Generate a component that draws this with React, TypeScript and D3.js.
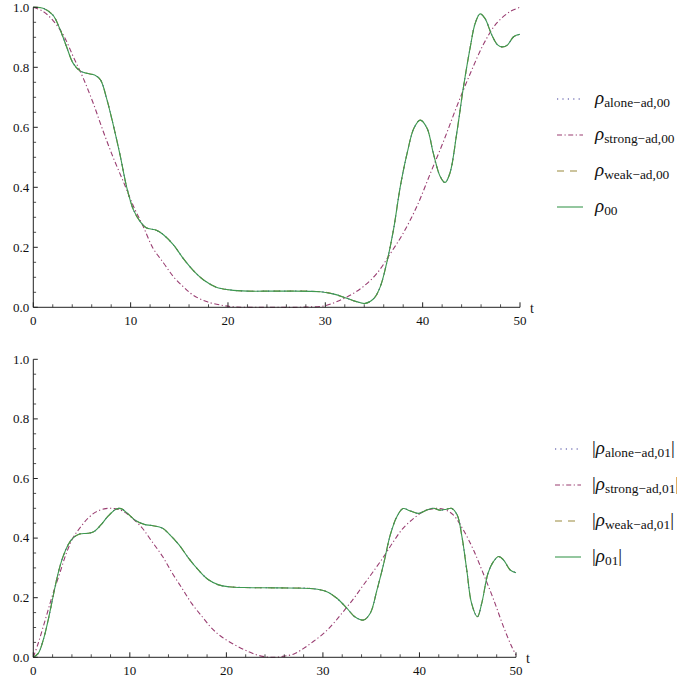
import React from "react";
import * as d3 from "d3";

// ---------- data ----------
const X_TICKS = [0, 10, 20, 30, 40, 50];
const Y_TICKS = [0, 0.2, 0.4, 0.6, 0.8, 1.0];

// top panel: rho_00
const T_RHO00 = [0, 1, 2, 2.7, 3.4, 4.1, 4.8, 5.5, 6.3, 6.9, 7.5, 8.2, 8.9, 9.6, 10.3, 11, 11.6, 12.7, 13.4, 14.4, 15.4, 16.4, 17.5, 18.8, 20.2, 22, 25, 29.5, 30.9, 32.2, 33.2, 34.1, 35.0, 35.65, 36.3, 37.0, 37.7, 38.4, 39.1, 39.75, 40.45, 41.1, 41.8, 42.3, 42.8, 43.5, 44.2, 44.9, 45.4, 45.9, 46.4, 47.1, 47.7, 48.2, 48.7, 49.35, 50];
const V_RHO00 = [1.0, 0.997, 0.975, 0.93, 0.87, 0.813, 0.788, 0.78, 0.774, 0.758, 0.70, 0.61, 0.51, 0.40, 0.324, 0.285, 0.265, 0.256, 0.241, 0.208, 0.163, 0.124, 0.091, 0.067, 0.058, 0.054, 0.054, 0.052, 0.044, 0.030, 0.019, 0.013, 0.03, 0.069, 0.147, 0.258, 0.402, 0.513, 0.597, 0.624, 0.597, 0.513, 0.436, 0.416, 0.447, 0.58, 0.736, 0.869, 0.947, 0.978, 0.963, 0.908, 0.875, 0.868, 0.874, 0.902, 0.91];
const V_ALONE00 = V_RHO00;
const V_WEAK00 = V_RHO00;

const T_STRONG00 = [0, 1.03, 2.05, 3.08, 4.1, 5.14, 6.16, 7.2, 8.2, 9.25, 10.3, 11.3, 12.3, 13.4, 14.4, 15.4, 16.4, 17.8, 19.5, 20.9, 23, 25, 27, 28.1, 29.8, 31.2, 32.6, 33.9, 35.3, 36.7, 38.0, 39.4, 40.8, 42.2, 43.5, 44.9, 46.3, 47.6, 49.0, 50];
const V_STRONG00 = [1.0, 0.986, 0.955, 0.908, 0.836, 0.763, 0.68, 0.585, 0.50, 0.419, 0.336, 0.269, 0.197, 0.147, 0.102, 0.069, 0.041, 0.019, 0.006, 0.001, 0, 0, 0, 0.001, 0.004, 0.019, 0.041, 0.069, 0.113, 0.18, 0.247, 0.336, 0.447, 0.558, 0.669, 0.78, 0.88, 0.947, 0.986, 1.0];

// bottom panel: |rho_01|
const T_RHO01 = [0, 0.51, 1.03, 1.54, 2.05, 2.57, 3.08, 3.6, 4.1, 4.8, 5.65, 6.3, 7.0, 7.7, 8.56, 9.08, 9.76, 10.6, 11.5, 12.3, 13.4, 14.0, 15.1, 16.1, 17.1, 18.15, 19.2, 20.2, 21.9, 25.3, 29.0, 30.4, 31.45, 32.5, 33.3, 34.2, 34.9, 35.6, 36.3, 36.97, 37.66, 38.3, 39.0, 39.9, 40.76, 41.45, 42.1, 42.8, 43.3, 43.9, 44.4, 44.9, 45.4, 46.0, 46.45, 47.1, 47.66, 48.2, 48.7, 49.4, 50];
const V_RHO01 = [0, 0.013, 0.058, 0.125, 0.204, 0.282, 0.338, 0.377, 0.40, 0.414, 0.416, 0.422, 0.444, 0.472, 0.497, 0.499, 0.483, 0.459, 0.446, 0.442, 0.433, 0.416, 0.377, 0.332, 0.293, 0.26, 0.243, 0.237, 0.234, 0.233, 0.230, 0.22, 0.198, 0.164, 0.136, 0.125, 0.148, 0.226, 0.315, 0.41, 0.472, 0.499, 0.492, 0.483, 0.494, 0.50, 0.494, 0.497, 0.50, 0.478, 0.405, 0.293, 0.181, 0.136, 0.181, 0.282, 0.321, 0.338, 0.327, 0.293, 0.284];
const V_ALONE01 = V_RHO01;
const V_WEAK01 = V_RHO01;

const T_STRONG01 = [0, 0.51, 1.03, 1.54, 2.05, 2.74, 3.42, 4.1, 4.8, 5.65, 6.5, 7.5, 8.4, 9.25, 10.3, 11.3, 12.3, 13.4, 14.4, 15.4, 16.4, 17.5, 18.5, 19.5, 20.9, 22.3, 23.6, 25, 26, 27, 28, 29, 30.1, 31.1, 32.1, 33.2, 34.2, 35.2, 36.3, 37.3, 38.3, 39.4, 40.4, 41.45, 42.5, 43.5, 44.55, 45.6, 46.6, 47.7, 48.7, 49.55, 50];
const V_STRONG01 = [0, 0.047, 0.103, 0.159, 0.215, 0.282, 0.349, 0.40, 0.433, 0.466, 0.488, 0.499, 0.499, 0.491, 0.466, 0.433, 0.388, 0.338, 0.282, 0.232, 0.181, 0.136, 0.097, 0.069, 0.041, 0.019, 0.004, 0, 0.004, 0.011, 0.03, 0.053, 0.081, 0.114, 0.153, 0.198, 0.243, 0.287, 0.338, 0.388, 0.433, 0.466, 0.489, 0.499, 0.497, 0.478, 0.427, 0.36, 0.282, 0.192, 0.103, 0.036, 0.008];

const LEGEND_TOP = ["alone−ad,00", "strong−ad,00", "weak−ad,00", "00"];
const LEGEND_BOTTOM = ["alone−ad,01", "strong−ad,01", "weak−ad,01", "01"];

// ---------- styles ----------
const COLORS = ["#3f3d99", "#993d71", "#998a3d", "#3d9951"];
const DASHES = ["1.2,4.2", "5,2.5,1.2,2.5", "7,6", ""];
const FONT = "Liberation Serif, Times New Roman, serif";

type Series = { t: number[]; v: number[] };

function Panel(props: {
  x0: number; x1: number; yTop: number; yBot: number;
  series: Series[];
}) {
  const { x0, x1, yTop, yBot, series } = props;
  const x = d3.scaleLinear().domain([0, 50]).range([x0, x1]);
  const y = d3.scaleLinear().domain([0, 1]).range([yBot, yTop]);
  const xMinor = d3.range(0, 51, 2).filter((d) => d % 10 !== 0);
  const yMinor = d3.range(0, 21).map((i) => i * 0.05).filter((_, i) => i % 4 !== 0);
  const axisColor = "#222";
  const fmt = d3.format(".1f");

  const paths = series.map((s) => {
    const pts = s.t.map((t, i) => [t, Math.max(0, s.v[i])] as [number, number]);
    return d3.line<[number, number]>()
      .x((d) => x(d[0]))
      .y((d) => y(d[1]))
      .curve(d3.curveCatmullRom.alpha(0.5))(pts) || "";
  });

  return (
    <g fontFamily={FONT}>
      {paths.map((d, i) => (
        <path key={i} d={d} fill="none" stroke={COLORS[i]} strokeWidth={1.1}
          strokeDasharray={DASHES[i] || undefined} />
      ))}
      <line x1={x0} x2={x1} y1={yBot} y2={yBot} stroke={axisColor} strokeWidth={1} />
      <line x1={x0} x2={x0} y1={yBot} y2={yTop} stroke={axisColor} strokeWidth={1} />
      {X_TICKS.map((t) => (
        <g key={"xt" + t}>
          <line x1={x(t)} x2={x(t)} y1={yBot} y2={yBot - 5} stroke={axisColor} strokeWidth={1} />
          <text x={x(t)} y={yBot + 17.5} textAnchor="middle" fontSize={13} fill="#111">{t}</text>
        </g>
      ))}
      {xMinor.map((t) => (
        <line key={"xm" + t} x1={x(t)} x2={x(t)} y1={yBot} y2={yBot - 3} stroke={axisColor} strokeWidth={0.8} />
      ))}
      {Y_TICKS.map((v) => (
        <g key={"yt" + v}>
          <line x1={x0} x2={x0 + 4.5} y1={y(v)} y2={y(v)} stroke={axisColor} strokeWidth={1} />
          <text x={x0 - 4} y={y(v) + 4.2} textAnchor="end" fontSize={13} fill="#111">{fmt(v)}</text>
        </g>
      ))}
      {yMinor.map((v) => (
        <line key={"ym" + v} x1={x0} x2={x0 + 2.8} y1={y(v)} y2={y(v)} stroke={axisColor} strokeWidth={0.8} />
      ))}
      <text x={x1 + 10} y={yBot + 6} fontSize={14} fill="#111">t</text>
    </g>
  );
}

function Legend(props: { x: number; y: number; labels: string[]; abs: boolean }) {
  const { x, y, labels, abs } = props;
  return (
    <g fontFamily={FONT}>
      {labels.map((lab, i) => {
        const yy = y + i * 36;
        return (
          <g key={i}>
            <line x1={x} x2={x + 26} y1={yy} y2={yy} stroke={COLORS[i]} strokeWidth={1.1}
              strokeDasharray={DASHES[i] || undefined} />
            <text x={x + (abs ? 37 : 38)} y={yy + 5} fontSize={19} fill="#111">
              {abs ? "|" : ""}
              <tspan fontStyle="italic">ρ</tspan>
              <tspan dy={2.5} fontSize={13.4}>{lab}</tspan>
              {abs ? <tspan dy={-2.5}>|</tspan> : null}
            </text>
          </g>
        );
      })}
    </g>
  );
}

export default function App() {
  const top: Series[] = [
    { t: T_RHO00, v: V_ALONE00 },
    { t: T_STRONG00, v: V_STRONG00 },
    { t: T_RHO00, v: V_WEAK00 },
    { t: T_RHO00, v: V_RHO00 },
  ];
  const bottom: Series[] = [
    { t: T_RHO01, v: V_ALONE01 },
    { t: T_STRONG01, v: V_STRONG01 },
    { t: T_RHO01, v: V_WEAK01 },
    { t: T_RHO01, v: V_RHO01 },
  ];
  return (
    <svg width={677} height={681} style={{ position: "absolute", left: 0, top: 0, background: "#fff" }}>
      <rect width={677} height={681} fill="#fff" />
      <Panel x0={33.3} x1={520} yTop={7.3} yBot={307.3} series={top} />
      <Panel x0={33.3} x1={516} yTop={359.3} yBot={657.3} series={bottom} />
      <Legend x={557} y={99} labels={LEGEND_TOP} abs={false} />
      <Legend x={555} y={449} labels={LEGEND_BOTTOM} abs={true} />
    </svg>
  );
}
